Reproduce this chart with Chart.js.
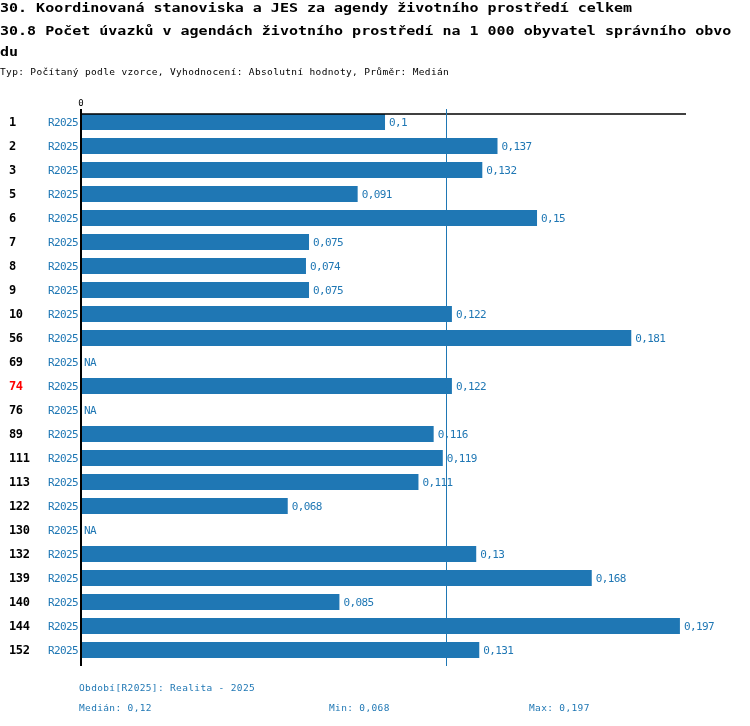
<!DOCTYPE html>
<html>
<head>
<meta charset="utf-8">
<script src="https://cdn.jsdelivr.net/npm/chart.js@4.4.1/dist/chart.umd.min.js"></script>
<style>
    body { margin: 0; background: #fff; }
    #wrap { position: relative; width: 750px; height: 726px; overflow: hidden; }
    #chart { position: absolute; left: 0; top: 0; }
    .t { position: absolute; left: 0; white-space: pre; font-family: "DejaVu Sans Mono", monospace; }
    .title { font-size: 11.5px; line-height: 12px; font-weight: bold; color: #000; transform: scaleX(1.304); transform-origin: 0 0; }
    .sub { font-size: 9.5px; line-height: 10px; letter-spacing: 0.35px; color: #000; }
    .foot { font-size: 9.5px; line-height: 10px; letter-spacing: 0.35px; color: #1f77b4; }
</style>
</head>
<body>
<div id="wrap">
    <canvas id="chart" width="750" height="726"></canvas>
    <div class="t title" style="top:2.3px">30. Koordinovaná stanoviska a JES za agendy životního prostředí celkem</div>
    <div class="t title" style="top:24.5px">30.8 Počet úvazků v agendách životního prostředí na 1 000 obyvatel správního obvo</div>
    <div class="t title" style="top:45.5px">du</div>
    <div class="t sub" style="top:67px">Typ: Počítaný podle vzorce, Vyhodnocení: Absolutní hodnoty, Průměr: Medián</div>
    <div class="t foot" id="period" style="top:683px; left:79px"></div>
    <div class="t foot" id="stMedian" style="top:703px; left:79px"></div>
    <div class="t foot" id="stMin" style="top:703px; left:329px"></div>
    <div class="t foot" id="stMax" style="top:703px; left:529px"></div>
</div>
<script>
// data
let rows = ['1', '2', '3', '5', '6', '7', '8', '9', '10', '56', '69', '74', '76', '89', '111', '113', '122', '130', '132', '139', '140', '144', '152'];
let values = [0.1, 0.137, 0.132, 0.091, 0.15, 0.075, 0.074, 0.075, 0.122, 0.181, null, 0.122, null, 0.116, 0.119, 0.111, 0.068, null, 0.13, 0.168, 0.085, 0.197, 0.131];
let period = 'R2025';
let periodName = 'Realita - 2025';
let highlighted = '74';
let median = 0.12;
let minValue = 0.068;
let maxValue = 0.197;

let blue = '#1f77b4';

function fmt(v) {
    return String(v).replace('.', ',');
}

document.getElementById('period').textContent = 'Období[' + period + ']: ' + periodName;
document.getElementById('stMedian').textContent = 'Medián: ' + fmt(median);
document.getElementById('stMin').textContent = 'Min: ' + fmt(minValue);
document.getElementById('stMax').textContent = 'Max: ' + fmt(maxValue);

let decor = {
    id: 'decor',
    afterDatasetsDraw: function (chart) {
        let ctx = chart.ctx;
        let x = chart.scales.x;
        let y = chart.scales.y;
        let area = chart.chartArea;
        let x0 = x.getPixelForValue(0);
        let xm = x.getPixelForValue(median);
        let lineTop = area.top - 1;
        let lineBottom = area.bottom + 4;

        ctx.save();
        // top line
        ctx.strokeStyle = '#000';
        ctx.lineWidth = 1.5;
        ctx.beginPath();
        ctx.moveTo(x0, area.top + 4);
        ctx.lineTo(area.right, area.top + 4);
        ctx.stroke();

        // zero axis
        ctx.lineWidth = 2;
        ctx.beginPath();
        ctx.moveTo(x0, lineTop);
        ctx.lineTo(x0, lineBottom);
        ctx.stroke();

        // median
        ctx.strokeStyle = blue;
        ctx.lineWidth = 1;
        ctx.beginPath();
        ctx.moveTo(Math.round(xm) + 0.5, lineTop);
        ctx.lineTo(Math.round(xm) + 0.5, lineBottom);
        ctx.stroke();

        ctx.font = '9px "DejaVu Sans Mono"';
        ctx.fillStyle = '#000';
        ctx.textAlign = 'center';
        ctx.textBaseline = 'alphabetic';
        ctx.fillText('0', x0, area.top - 4);

        ctx.textBaseline = 'middle';
        for (let i = 0; i < rows.length; i++) {
            let yc = y.getPixelForValue(i) + 1;
            ctx.font = 'bold 12px "DejaVu Sans Mono"';
            ctx.letterSpacing = '-0.4px';
            ctx.textAlign = 'left';
            ctx.fillStyle = rows[i] === highlighted ? '#ff0000' : '#000';
            ctx.fillText(rows[i], 9, yc);

            ctx.font = '11px "DejaVu Sans Mono"';
            ctx.letterSpacing = '-0.6px';
            ctx.fillStyle = blue;
            ctx.textAlign = 'right';
            ctx.fillText(period, x0 - 3, yc);

            ctx.textAlign = 'left';
            if (values[i] === null) {
                ctx.fillText('NA', x0 + 3, yc);
            } else {
                ctx.fillText(fmt(values[i]), x.getPixelForValue(values[i]) + 4, yc);
            }
        }
        ctx.restore();
    }
};

new Chart(document.getElementById('chart'), {
    type: 'bar',
    data: {
        labels: rows,
        datasets: [{
            data: values,
            backgroundColor: blue,
            borderWidth: 0,
            barPercentage: 1,
            categoryPercentage: 16 / 24
        }]
    },
    options: {
        indexAxis: 'y',
        responsive: false,
        devicePixelRatio: 1,
        animation: false,
        layout: { padding: { left: 81, top: 110, right: 64, bottom: 64 } },
        plugins: {
            legend: { display: false },
            tooltip: { enabled: false }
        },
        scales: {
            x: { display: false, min: 0, max: 0.199 },
            y: { display: false }
        }
    },
    plugins: [decor]
});
</script>
</body>
</html>
